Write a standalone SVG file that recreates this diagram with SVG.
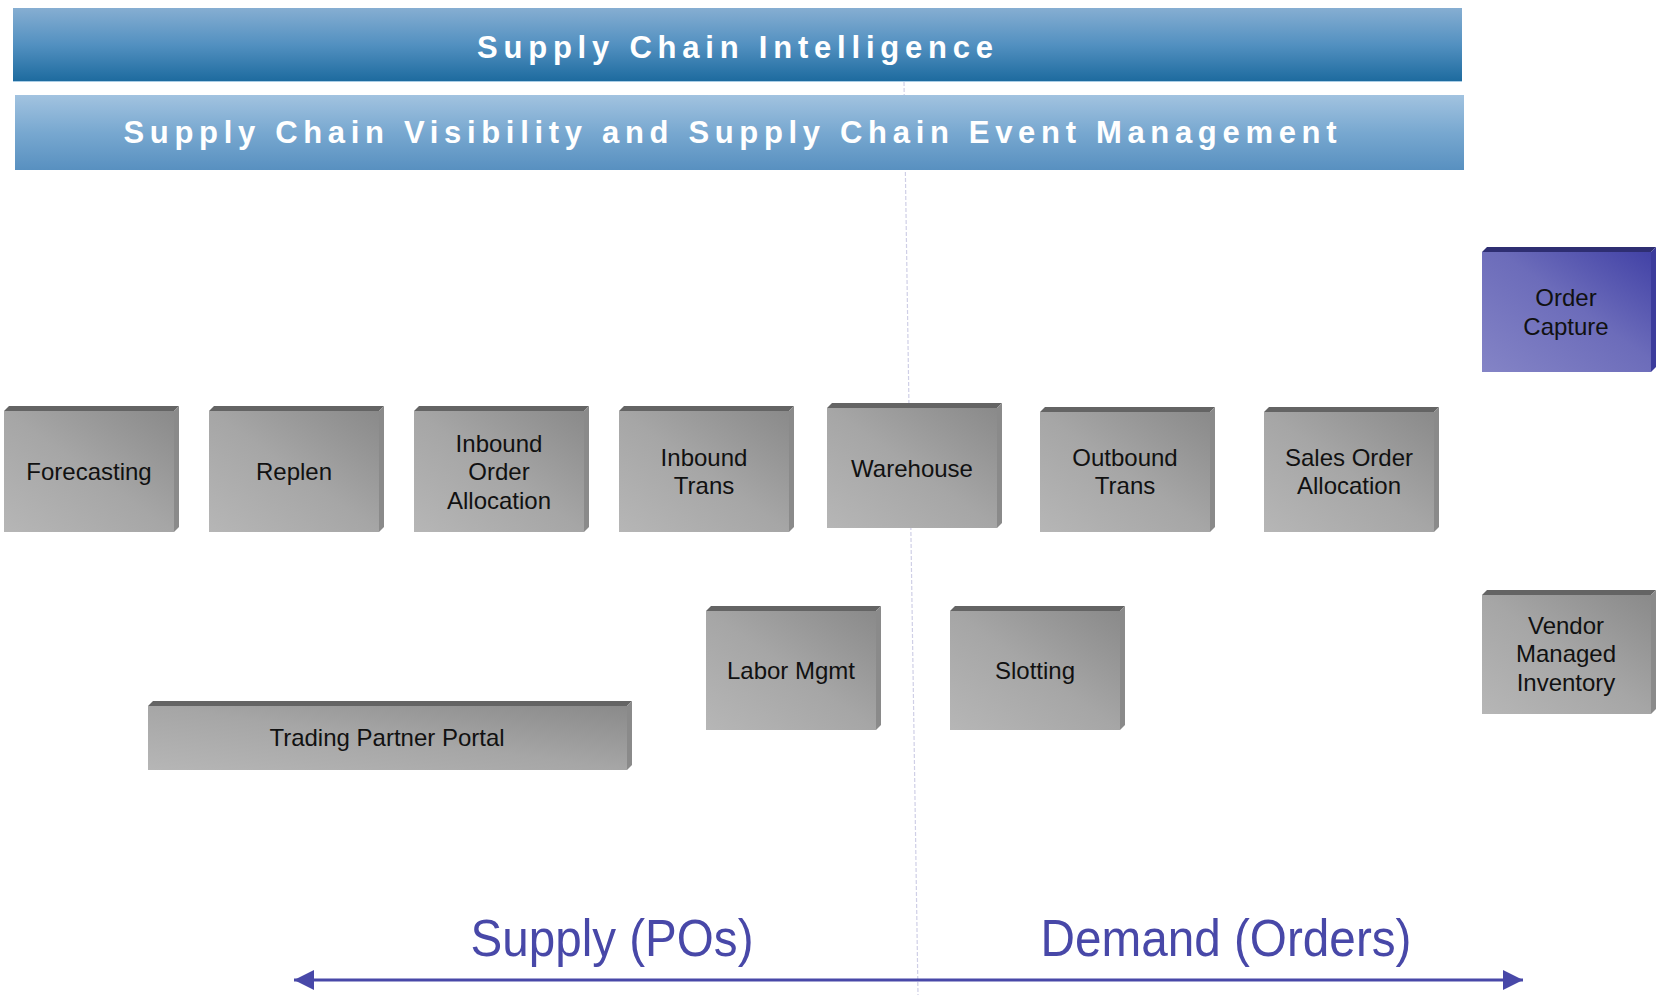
<svg xmlns="http://www.w3.org/2000/svg" width="1661" height="995" viewBox="0 0 1661 995">
<defs>
<linearGradient id="bar1" x1="0" y1="0" x2="0" y2="1">
<stop offset="0" stop-color="#86aed2"/>
<stop offset="0.5" stop-color="#5290c0"/>
<stop offset="1" stop-color="#1c6a9e"/>
</linearGradient>
<linearGradient id="bar2" x1="0" y1="0" x2="0" y2="1">
<stop offset="0" stop-color="#a2c3e0"/>
<stop offset="0.5" stop-color="#78a8d0"/>
<stop offset="1" stop-color="#5890c0"/>
</linearGradient>
<linearGradient id="gray" x1="0" y1="1" x2="1" y2="0">
<stop offset="0" stop-color="#b6b6b6"/>
<stop offset="0.5" stop-color="#a6a6a6"/>
<stop offset="1" stop-color="#8a8a8a"/>
</linearGradient>
<linearGradient id="blue" x1="0" y1="1" x2="1" y2="0">
<stop offset="0" stop-color="#8484c6"/>
<stop offset="0.55" stop-color="#6c6cba"/>
<stop offset="1" stop-color="#4242a6"/>
</linearGradient>
<marker id="ah" viewBox="0 0 20 20" refX="20" refY="10" markerWidth="20" markerHeight="20" markerUnits="userSpaceOnUse" orient="auto-start-reverse">
<path d="M0,0 L20,10 L0,20 Z" fill="#4848a8"/>
</marker>
<style>
.face{fill:url(#gray)}
.top{fill:#646464}
.side{fill:#8a8a8a}
.bface{fill:url(#blue)}
.btop{fill:#2e2e72}
.bside{fill:#3c3c9c}
.lbl{font-family:"Liberation Sans",Arial,sans-serif;font-size:24px;fill:#111;text-anchor:middle}
.bar{font-family:"Liberation Sans",Arial,sans-serif;font-weight:bold;font-size:31px;fill:#ffffff;text-anchor:middle}
.axis{font-family:"Liberation Sans",Arial,sans-serif;font-size:52px;fill:#4848a8;text-anchor:middle}
</style>
</defs>
<rect width="1661" height="995" fill="#ffffff"/>
<line x1="904" y1="82" x2="918" y2="995" stroke="#cfcfe6" stroke-width="1.2" stroke-dasharray="4,2"/>
<g id="bar-intelligence">
<rect x="13" y="8" width="1449" height="74" fill="url(#bar1)"/>
<line x1="13" y1="81.5" x2="1462" y2="81.5" stroke="#a9cde6" stroke-width="1"/>
<text class="bar" x="735" y="58" textLength="516" lengthAdjust="spacing">Supply Chain Intelligence</text>
</g>
<g id="bar-visibility">
<rect x="15" y="95" width="1449" height="75" fill="url(#bar2)"/>
<text class="bar" x="730" y="143" textLength="1213" lengthAdjust="spacing">Supply Chain Visibility and Supply Chain Event Management</text>
</g>
<g id="forecasting">
<rect class="face" x="4" y="411" width="170" height="121"/>
<polygon class="top" points="4,411 9,406 179,406 174,411"/>
<polygon class="side" points="174,411 179,406 179,527 174,532"/>
<text class="lbl" x="89" y="480">Forecasting</text>
</g>
<g id="replen">
<rect class="face" x="209" y="411" width="170" height="121"/>
<polygon class="top" points="209,411 214,406 384,406 379,411"/>
<polygon class="side" points="379,411 384,406 384,527 379,532"/>
<text class="lbl" x="294" y="480">Replen</text>
</g>
<g id="inbound-order-allocation">
<rect class="face" x="414" y="411" width="170" height="121"/>
<polygon class="top" points="414,411 419,406 589,406 584,411"/>
<polygon class="side" points="584,411 589,406 589,527 584,532"/>
<text class="lbl" x="499" y="451.5">Inbound</text>
<text class="lbl" x="499" y="480">Order</text>
<text class="lbl" x="499" y="508.5">Allocation</text>
</g>
<g id="inbound-trans">
<rect class="face" x="619" y="411" width="170" height="121"/>
<polygon class="top" points="619,411 624,406 794,406 789,411"/>
<polygon class="side" points="789,411 794,406 794,527 789,532"/>
<text class="lbl" x="704" y="465.5">Inbound</text>
<text class="lbl" x="704" y="494">Trans</text>
</g>
<g id="warehouse">
<rect class="face" x="827" y="408" width="170" height="120"/>
<polygon class="top" points="827,408 832,403 1002,403 997,408"/>
<polygon class="side" points="997,408 1002,403 1002,523 997,528"/>
<text class="lbl" x="912" y="477">Warehouse</text>
</g>
<g id="outbound-trans">
<rect class="face" x="1040" y="412" width="170" height="120"/>
<polygon class="top" points="1040,412 1045,407 1215,407 1210,412"/>
<polygon class="side" points="1210,412 1215,407 1215,527 1210,532"/>
<text class="lbl" x="1125" y="465.5">Outbound</text>
<text class="lbl" x="1125" y="494">Trans</text>
</g>
<g id="sales-order-allocation">
<rect class="face" x="1264" y="412" width="170" height="120"/>
<polygon class="top" points="1264,412 1269,407 1439,407 1434,412"/>
<polygon class="side" points="1434,412 1439,407 1439,527 1434,532"/>
<text class="lbl" x="1349" y="465.5">Sales Order</text>
<text class="lbl" x="1349" y="494">Allocation</text>
</g>
<g id="order-capture">
<rect class="bface" x="1482" y="252" width="169" height="120"/>
<polygon class="btop" points="1482,252 1487,247 1656,247 1651,252"/>
<polygon class="bside" points="1651,252 1656,247 1656,367 1651,372"/>
<text class="lbl" x="1566" y="306">Order</text>
<text class="lbl" x="1566" y="334.5">Capture</text>
</g>
<g id="labor-mgmt">
<rect class="face" x="706" y="611" width="170" height="119"/>
<polygon class="top" points="706,611 711,606 881,606 876,611"/>
<polygon class="side" points="876,611 881,606 881,725 876,730"/>
<text class="lbl" x="791" y="679">Labor Mgmt</text>
</g>
<g id="slotting">
<rect class="face" x="950" y="611" width="170" height="119"/>
<polygon class="top" points="950,611 955,606 1125,606 1120,611"/>
<polygon class="side" points="1120,611 1125,606 1125,725 1120,730"/>
<text class="lbl" x="1035" y="679">Slotting</text>
</g>
<g id="trading-partner-portal">
<rect class="face" x="148" y="706" width="479" height="64"/>
<polygon class="top" points="148,706 153,701 632,701 627,706"/>
<polygon class="side" points="627,706 632,701 632,765 627,770"/>
<text class="lbl" x="387" y="746">Trading Partner Portal</text>
</g>
<g id="vendor-managed-inventory">
<rect class="face" x="1482" y="595" width="169" height="119"/>
<polygon class="top" points="1482,595 1487,590 1656,590 1651,595"/>
<polygon class="side" points="1651,595 1656,590 1656,709 1651,714"/>
<text class="lbl" x="1566" y="633.5">Vendor</text>
<text class="lbl" x="1566" y="662">Managed</text>
<text class="lbl" x="1566" y="690.5">Inventory</text>
</g>
<g id="connectors">
<line x1="294" y1="980" x2="1523" y2="980" stroke="#4848a8" stroke-width="3" marker-start="url(#ah)" marker-end="url(#ah)"/>
</g>
<g id="axis-labels">
<text class="axis" x="612" y="956" textLength="283" lengthAdjust="spacingAndGlyphs">Supply (POs)</text>
<text class="axis" x="1226" y="956" textLength="371" lengthAdjust="spacingAndGlyphs">Demand (Orders)</text>
</g>
</svg>
